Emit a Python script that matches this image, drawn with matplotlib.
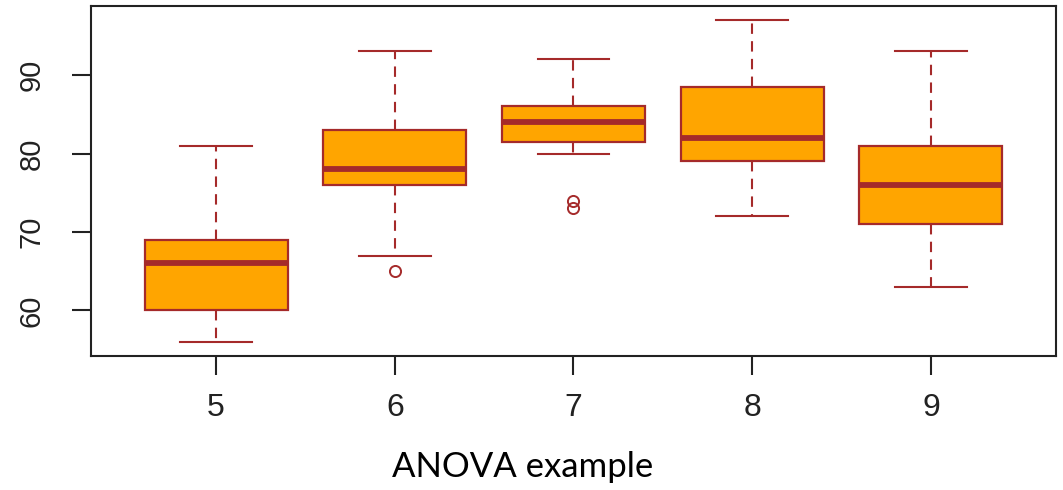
import matplotlib
matplotlib.use('Agg')
from matplotlib import pyplot as plt

# values (R-style boxplot)
groups = ['5', '6', '7', '8', '9']
whisker_low = [56, 67, 80, 72, 63]
q1 = [60, 76, 81.5, 79, 71]
median = [66, 78, 84, 82, 76]
q3 = [69, 83, 86, 88.5, 81]
whisker_high = [81, 93, 92, 97, 93]
outliers = [[], [65], [74, 73], [], []]

y_ticks = [60, 70, 80, 90]

fill = '#FFA500'
edge = '#A52A2A'

plt.rcParams['font.family'] = 'Liberation Sans'

stats = []
for i in range(len(groups)):
    stats.append({'label': groups[i], 'whislo': whisker_low[i], 'q1': q1[i],
                  'med': median[i], 'q3': q3[i], 'whishi': whisker_high[i],
                  'fliers': outliers[i]})

fig = plt.figure(figsize=(10.63, 4.90), dpi=100)
ax = fig.add_axes([0.0856, 0.2735, 0.9078, 0.7143])

ax.bxp(stats, positions=range(1, len(groups) + 1), widths=0.8, capwidths=0.4,
       patch_artist=True,
       boxprops=dict(facecolor=fill, edgecolor=edge, linewidth=1.6),
       medianprops=dict(color=edge, linewidth=4.2, solid_capstyle='butt'),
       whiskerprops=dict(color=edge, linewidth=1.5, linestyle=(0, (5, 3.5))),
       capprops=dict(color=edge, linewidth=1.5),
       flierprops=dict(marker='o', markerfacecolor='none', markeredgecolor=edge,
                       markersize=8, markeredgewidth=1.4))

ax.set_xlim(0.3, 5.7)
ax.set_ylim(54.2, 98.8)
ax.set_yticks(y_ticks)
ax.set_yticklabels([str(t) for t in y_ticks], rotation=90, va='center')

for s in ax.spines.values():
    s.set_color('#222222')
    s.set_linewidth(1.5)

ax.tick_params(axis='both', length=13.5, width=1.5, color='#222222',
               labelcolor='#222222')
ax.tick_params(axis='x', pad=13, labelsize=23)
ax.tick_params(axis='y', pad=19, labelsize=21)

fig.text(0.4915, 0.0265, 'ANOVA example', ha='center', va='baseline',
         fontsize=25, family='Lato', color='black')

fig.savefig('out.png', dpi=100)
